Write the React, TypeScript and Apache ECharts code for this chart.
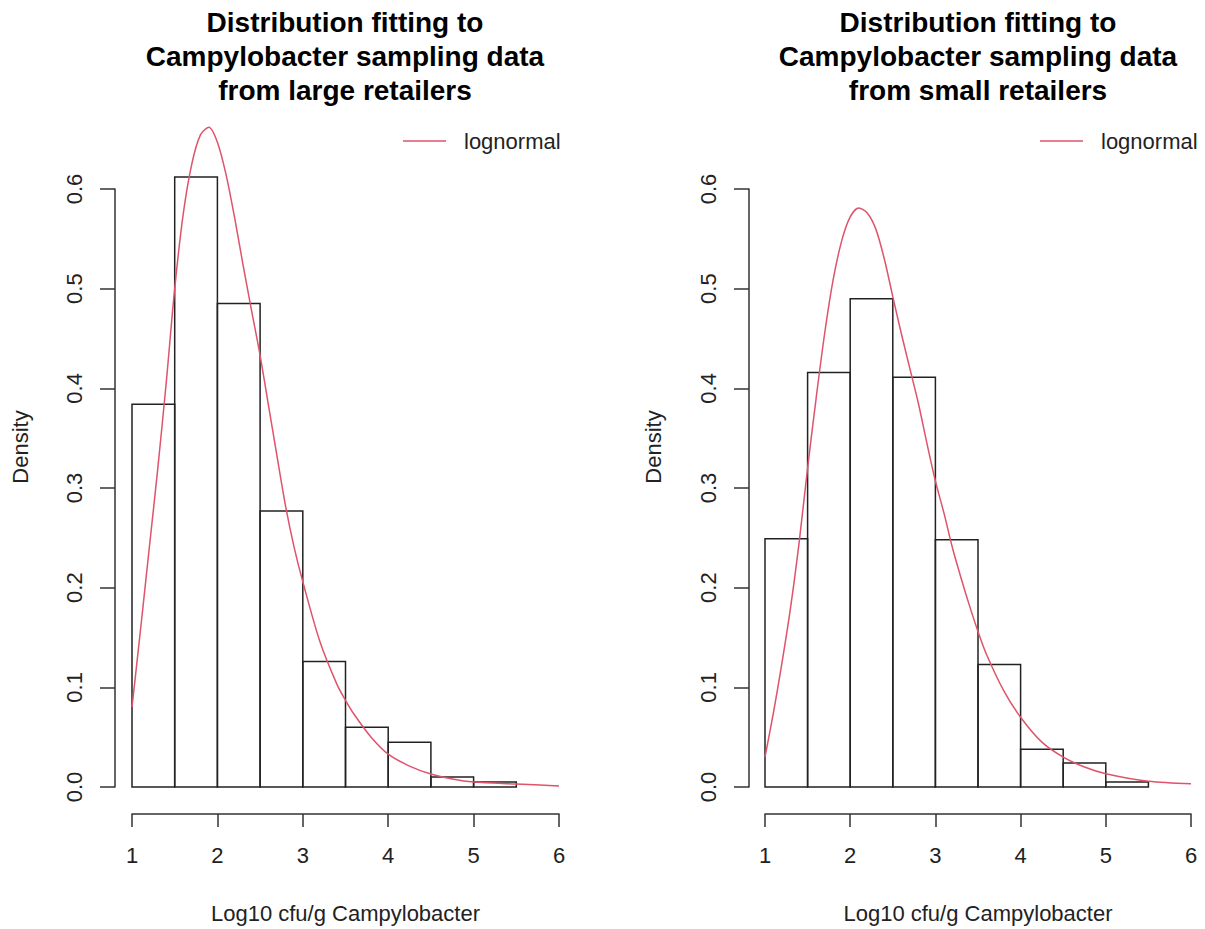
import React, { useEffect, useRef } from "react";
import * as echarts from "echarts";

const binStarts = [1, 1.5, 2, 2.5, 3, 3.5, 4, 4.5, 5];
const binEnds = [1.5, 2, 2.5, 3, 3.5, 4, 4.5, 5, 5.5];
const largeDensity = [0.384, 0.612, 0.485, 0.277, 0.126, 0.06, 0.045, 0.01, 0.005];
const smallDensity = [0.249, 0.416, 0.49, 0.411, 0.248, 0.123, 0.038, 0.024, 0.005];

const largeCurveX = [1, 1.1, 1.2, 1.3, 1.4, 1.5, 1.6, 1.7, 1.8, 1.9, 2, 2.1, 2.2, 2.3, 2.4, 2.5, 2.6, 2.7, 2.8, 2.9, 3, 3.2, 3.4, 3.5, 3.6, 3.8, 4, 4.25, 4.5, 4.75, 5, 5.5, 6];
const largeCurveY = [0.08, 0.158, 0.238, 0.318, 0.405, 0.5, 0.575, 0.625, 0.654, 0.662, 0.647, 0.615, 0.572, 0.524, 0.478, 0.433, 0.382, 0.331, 0.281, 0.24, 0.206, 0.146, 0.103, 0.087, 0.073, 0.05, 0.033, 0.021, 0.013, 0.008, 0.005, 0.003, 0.001];

const smallCurveX = [1, 1.1, 1.2, 1.3, 1.4, 1.5, 1.6, 1.7, 1.8, 1.9, 2, 2.1, 2.2, 2.3, 2.4, 2.5, 2.6, 2.7, 2.8, 2.9, 3, 3.1, 3.2, 3.3, 3.4, 3.5, 3.6, 3.8, 4, 4.25, 4.5, 4.75, 5, 5.5, 6];
const smallCurveY = [0.03, 0.075, 0.125, 0.18, 0.245, 0.32, 0.39, 0.455, 0.509, 0.548, 0.572, 0.581, 0.576, 0.56, 0.53, 0.492, 0.455, 0.42, 0.385, 0.345, 0.307, 0.275, 0.24, 0.21, 0.182, 0.156, 0.133, 0.097, 0.07, 0.045, 0.03, 0.02, 0.0133, 0.0057, 0.0033];

const yTicks = [0, 0.1, 0.2, 0.3, 0.4, 0.5, 0.6];
const xTicks = [1, 2, 3, 4, 5, 6];

const titles = [
  "Distribution fitting to\nCampylobacter sampling data\nfrom large retailers",
  "Distribution fitting to\nCampylobacter sampling data\nfrom small retailers",
];
const seriesName = "lognormal";
const xTitle = "Log10 cfu/g Campylobacter";
const yTitle = "Density";

const FONT = "'Liberation Sans', Arial, sans-serif";
const AXIS_COLOR = "#333";
const RED = "#DF536B";

export default function App() {
  const ref = useRef<HTMLDivElement>(null);

  useEffect(() => {
    if (!ref.current) return;
    const chart = echarts.init(ref.current, null, { renderer: "svg" });

    const grids = [
      { left: 132, width: 427, top: 189, height: 601 },
      { left: 765, width: 426, top: 189, height: 601 },
    ];
    const yOffsets = [17, 16];

    const xAxes = grids.map((_, i) => ({
      type: "value",
      gridIndex: i,
      min: 1,
      max: 6,
      interval: 1,
      offset: 27,
      position: "bottom",
      name: xTitle,
      nameLocation: "middle",
      nameGap: 88,
      nameTextStyle: { fontFamily: FONT, fontSize: 22, color: "#222" },
      axisLine: { show: true, onZero: false, lineStyle: { color: AXIS_COLOR, width: 1.5 } },
      axisTick: { show: true, length: 13, lineStyle: { color: AXIS_COLOR, width: 1.5 } },
      axisLabel: {
        fontFamily: FONT,
        fontSize: 22,
        color: "#222",
        margin: 30,
        formatter: (v: number) => (xTicks.includes(v) ? String(v) : ""),
      },
      splitLine: { show: false },
    }));

    const yAxes = grids.map((_, i) => ({
      type: "value",
      gridIndex: i,
      min: 0,
      max: 0.6,
      interval: 0.1,
      offset: yOffsets[i],
      position: "left",
      axisLine: { show: true, onZero: false, lineStyle: { color: AXIS_COLOR, width: 1.5 } },
      axisTick: { show: true, length: 15, lineStyle: { color: AXIS_COLOR, width: 1.5 } },
      axisLabel: {
        fontFamily: FONT,
        fontSize: 22,
        color: "#222",
        rotate: 90,
        margin: 30,
        formatter: (v: number) => {
          const t = yTicks.find((k) => Math.abs(k - v) < 1e-9);
          return t === undefined ? "" : t.toFixed(1);
        },
      },
      splitLine: { show: false },
    }));

    const histData = [largeDensity, smallDensity];
    const curveXs = [largeCurveX, smallCurveX];
    const curveYs = [largeCurveY, smallCurveY];

    const series: any[] = [];
    for (let i = 0; i < 2; i++) {
      series.push({
        type: "custom",
        name: "histogram",
        xAxisIndex: i,
        yAxisIndex: i,
        clip: false,
        silent: true,
        encode: { x: [0, 1], y: 2 },
        data: binStarts.map((s, k) => [s, binEnds[k], histData[i][k]]),
        renderItem: (params: any, api: any) => {
          const x0 = api.value(0);
          const x1 = api.value(1);
          const y = api.value(2);
          const p0 = api.coord([x0, y]);
          const p1 = api.coord([x1, 0]);
          return {
            type: "rect",
            shape: { x: p0[0], y: p0[1], width: p1[0] - p0[0], height: p1[1] - p0[1] },
            style: { fill: "none", stroke: "#222", lineWidth: 1.5 },
          };
        },
        z: 2,
      });
      series.push({
        type: "line",
        name: seriesName,
        xAxisIndex: i,
        yAxisIndex: i,
        clip: false,
        smooth: 0.3,
        symbol: "none",
        showSymbol: false,
        lineStyle: { color: RED, width: 1.5 },
        itemStyle: { color: RED },
        data: curveXs[i].map((x, k) => [x, curveYs[i][k]]),
        z: 3,
      });
    }

    const titleCenters = [345, 978];
    const densityX = [20, 653];

    const legendBase = {
      itemWidth: 43,
      itemHeight: 1.5,
      itemGap: 10,
      top: 125,
      selectedMode: false,
      textStyle: { fontFamily: FONT, fontSize: 22, color: "#222", padding: [0, 0, 0, 13] },
    };

    chart.setOption({
      animation: false,
      backgroundColor: "#fff",
      grid: grids.map((g) => ({ ...g, containLabel: false })),
      xAxis: xAxes,
      yAxis: yAxes,
      legend: [
        { ...legendBase, data: [{ name: seriesName, icon: "rect" }], left: 398 },
        { ...legendBase, data: [{ name: seriesName, icon: "rect" }], left: 1035 },
      ],
      graphic: [
        ...titles.map((t, i) => ({
          type: "text",
          x: titleCenters[i],
          y: 56,
          style: {
            text: t,
            fontFamily: FONT,
            fontSize: 28,
            fontWeight: "bold",
            fill: "#000",
            align: "center",
            verticalAlign: "middle",
            lineHeight: 34,
          },
        })),
        ...densityX.map((x) => ({
          type: "text",
          x,
          y: 447,
          rotation: Math.PI / 2,
          style: {
            text: yTitle,
            fontFamily: FONT,
            fontSize: 22,
            fill: "#222",
            align: "center",
            verticalAlign: "middle",
          },
        })),
      ],
      series,
    });

    return () => chart.dispose();
  }, []);

  return (
    <div
      ref={ref}
      style={{ position: "fixed", left: 0, top: 0, width: 1205, height: 929, background: "#fff" }}
    />
  );
}
